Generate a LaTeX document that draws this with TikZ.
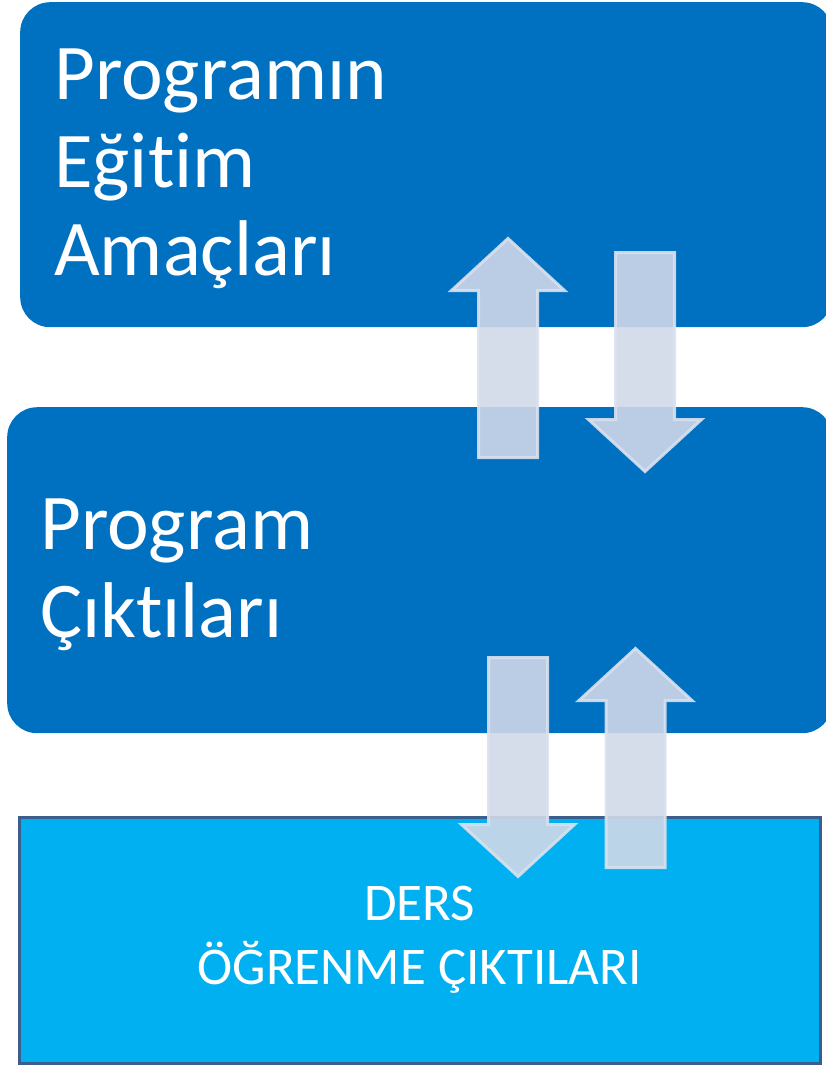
\documentclass[tikz,border=0pt]{standalone}
\usepackage{fontspec}
\setmainfont{Carlito}[Ligatures=NoCommon]
\usepackage{tikz}
\usetikzlibrary{positioning}

\definecolor{boxblue}{HTML}{0070C0}
\definecolor{lowcyan}{HTML}{00B0F0}
\definecolor{lowedge}{HTML}{3B5E8D}
\definecolor{arrowfill}{RGB}{208,216,232}
\definecolor{arrowedge}{RGB}{218,225,238}

\tikzset{
  bigbox/.style={rectangle,fill=boxblue,rounded corners=30pt,anchor=north west,inner sep=0pt},
  lowbox/.style={rectangle,fill=lowcyan,draw=lowedge,line width=3pt,anchor=north west,
                 inner sep=0pt,text=white,align=center,font=\fontsize{53}{63}\selectfont},
  bigtext/.style={anchor=base west,inner sep=0pt,text=white,align=left,
                  font=\fontsize{79}{88}\selectfont},
  arrowbox/.style={fill=arrowfill,draw=arrowedge,line width=3pt,opacity=0.9,line join=miter},
  blockarrow/.pic={
    \path[arrowbox] (-29.5,0) -- (-29.5,-167) -- (-56.5,-167) -- (0,-219)
      -- (56.5,-167) -- (29.5,-167) -- (29.5,0) -- cycle;
  }
}

\begin{document}
\begin{tikzpicture}[x=1pt,y=-1pt]
\useasboundingbox (0,0) rectangle (825,1065);

% boxes
\node[bigbox,minimum width=812pt,minimum height=325pt] (pea) at (20,2) {};
\node[bigbox,minimum width=825pt,minimum height=326pt] (po)  at (7,407) {};
\node[lowbox,minimum width=801pt,minimum height=246pt] (doc) at (17.5,815.5)
  {DERS\\[1pt]ÖĞRENME ÇIKTILARI};

% labels (anchored on the last line)
\node[bigtext] (peatext) at (54,275) {Programın\\Eğitim\\Amaçları};
\node[bigtext] (potext)  at (40,637) {Program\\Çıktıları};

% arrows between the levels
\pic at (508,457.5) {blockarrow};
\pic[rotate=180] at (645,252.5) {blockarrow};
\pic[rotate=180] at (518,657.5) {blockarrow};
\pic at (635.5,867.5) {blockarrow};

\end{tikzpicture}
\end{document}
